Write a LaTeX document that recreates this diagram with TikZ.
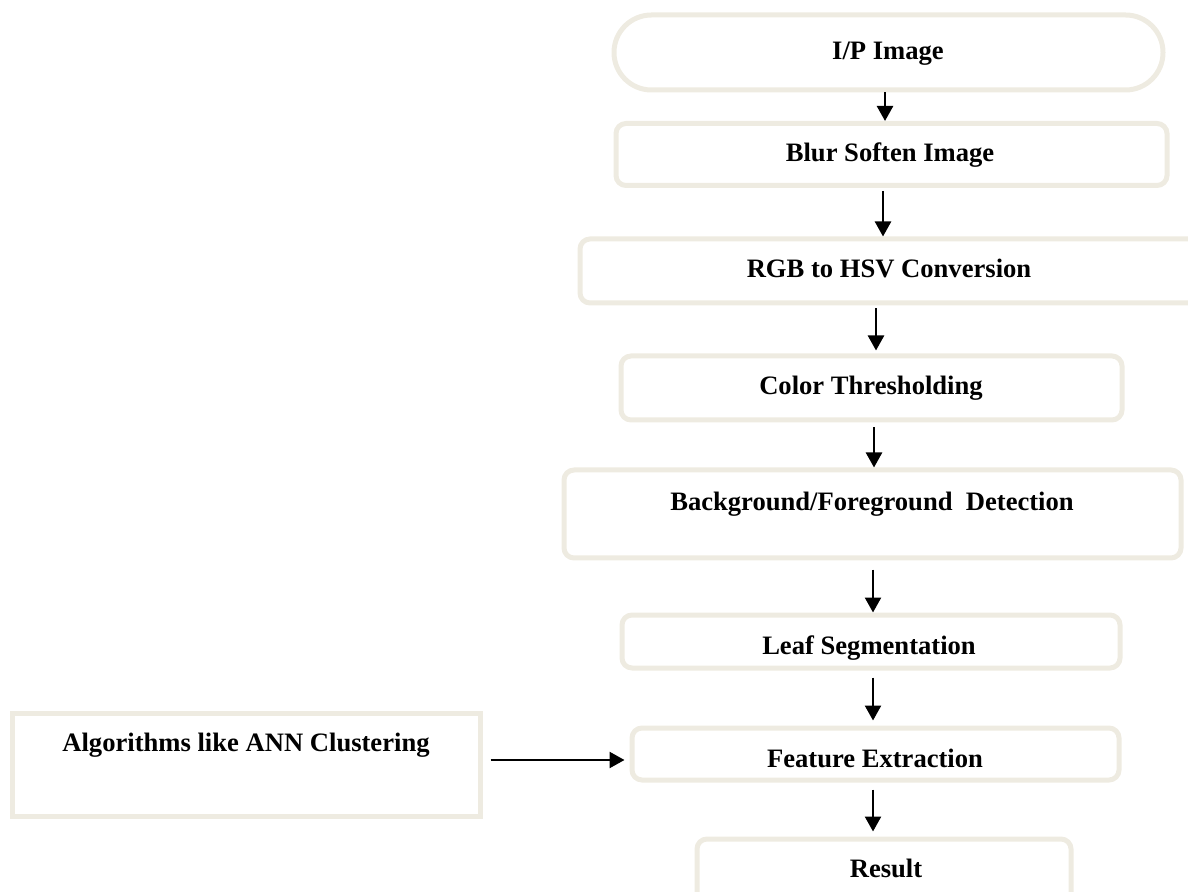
\documentclass[tikz,border=0pt]{standalone}
\usepackage{fontspec}
\setmainfont{Liberation Serif}
\usepackage{xcolor}
\usetikzlibrary{arrows.meta}
\definecolor{boxline}{HTML}{EEEBE1}

\begin{document}
\begin{tikzpicture}[x=0.5pt, y=-0.5pt,
		stepbox/.style={draw=boxline, line width=2.5pt, rounded corners=5pt, inner sep=0pt},
		flatbox/.style={draw=boxline, line width=2.5pt, inner sep=0pt},
		lbl/.style={anchor=base, inner sep=0pt, font=\fontsize{13.3}{16}\selectfont\bfseries},
		flow/.style={line width=1.2pt, -{Triangle[length=7.5pt, width=8pt]}}]
		\useasboundingbox (0,0) rectangle (1188,892);
		
		\node[stepbox, rounded corners=18.7pt, minimum width=274.5pt, minimum height=37.5pt] (ip) at (888.5,52.5) {};
		\node[stepbox, minimum width=275.5pt, minimum height=31pt] (blur) at (891.5,154.5) {};
		\node[stepbox, minimum width=310pt, minimum height=32pt] (rgb) at (890,271) {};
		\node[stepbox, minimum width=250.5pt, minimum height=32pt] (thr) at (871.5,388) {};
		\node[stepbox, minimum width=308.5pt, minimum height=44pt] (bg) at (872.5,514) {};
		\node[stepbox, minimum width=249pt, minimum height=26.5pt] (leaf) at (871,641.5) {};
		\node[stepbox, minimum width=243.5pt, minimum height=26pt] (feat) at (875.5,754) {};
		\node[stepbox, minimum width=187pt, minimum height=33pt] (res) at (884,872) {};
		\node[flatbox, minimum width=234pt, minimum height=51.5pt] (algo) at (246,764.5) {};
		
		\node[lbl] (ipT) at (888,60) {I/P Image};
		\node[lbl] (blurT) at (890,162) {Blur Soften Image};
		\node[lbl] (rgbT) at (889,278) {RGB to HSV Conversion};
		\node[lbl] (thrT) at (871,395) {Color Thresholding};
		\node[lbl] (bgT) at (872,510) {Background/Foreground\ \ Detection};
		\node[lbl] (leafT) at (869,654) {Leaf Segmentation};
		\node[lbl] (featT) at (875,767) {Feature Extraction};
		\node[lbl] (resT) at (886,877) {Result};
		\node[lbl] (algoT) at (246,751) {Algorithms like ANN Clustering};
		
		\draw[flow] (ip.south -| 885,0) -- (blur.north -| 885,0);
		\draw[flow] ([yshift=-1.5pt]blur.south -| 883,0) -- (rgb.north -| 883,0);
		\draw[flow] ([yshift=-1.5pt]rgb.south -| 876,0) -- ([yshift=1.5pt]thr.north -| 876,0);
		\draw[flow] ([yshift=-2.5pt]thr.south -| 874,0) -- (bg.north -| 874,0);
		\draw[flow] ([yshift=-4.5pt]bg.south -| 873,0) -- (leaf.north -| 873,0);
		\draw[flow] ([yshift=-3.5pt]leaf.south -| 873,0) -- ([yshift=2.5pt]feat.north -| 873,0);
		\draw[flow] ([yshift=-3.5pt]feat.south -| 873,0) -- ([yshift=2.5pt]res.north -| 873,0);
		\draw[flow] ([xshift=4pt]algo.east |- 0,760) -- ([xshift=-2.5pt]feat.west |- 0,760);
\end{tikzpicture}
\end{document}
